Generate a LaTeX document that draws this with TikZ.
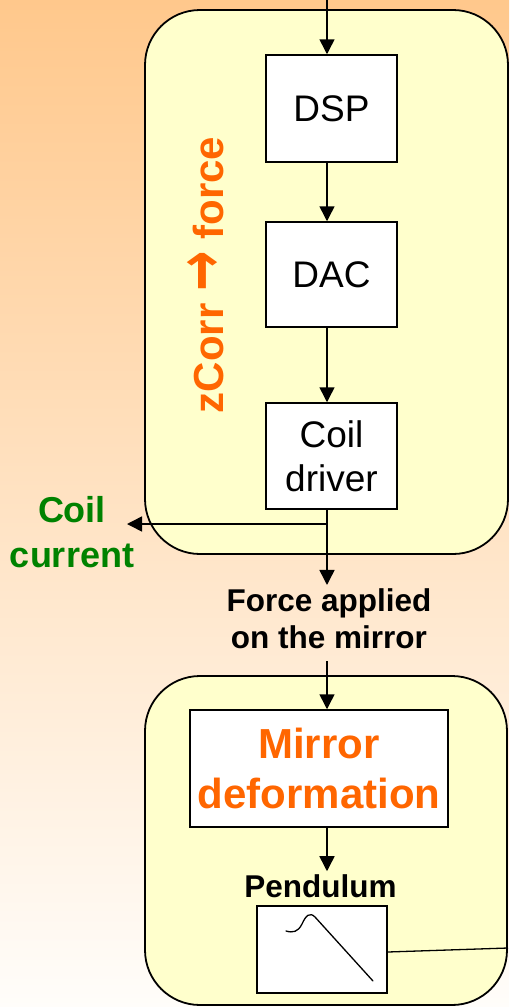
\documentclass[tikz,border=0pt]{standalone}
\usepackage{fontspec}
\setmainfont{Liberation Sans}
\newfontfamily\arrowfont{DejaVu Sans}
\usetikzlibrary{arrows.meta}
\definecolor{bgtop}{RGB}{255,200,140}
\definecolor{bgmid}{RGB}{253,228,208}
\definecolor{bgbot}{RGB}{255,253,250}
\definecolor{grpyellow}{RGB}{255,255,204}
\definecolor{txtorange}{RGB}{255,102,0}
\definecolor{txtgreen}{RGB}{0,130,0}
\begin{document}
\begin{tikzpicture}[x=1pt,y=-1pt,
  group/.style={draw=black,fill=grpyellow,line width=1.8pt,rounded corners=55pt,inner sep=0pt},
  block/.style={draw=black,fill=white,line width=1.5pt,inner sep=0pt,align=center,font=\fontsize{37}{44}\selectfont},
  arr/.style={line width=1.5pt,-{Triangle[length=15pt,width=15pt]}},
  plain/.style={line width=1.5pt},
  lbl/.style={inner sep=3pt,align=center,font=\bfseries\fontsize{31.5}{37.5}\selectfont}
]
\useasboundingbox (0,0) rectangle (509,1007);
\shade[top color=bgtop,middle color=bgmid,bottom color=bgbot] (0,0) rectangle (509,1007);

% groups
\node[group,minimum width=363pt,minimum height=544pt] (grpA) at (326.5,282) {};
\node[group,minimum width=362pt,minimum height=329pt] (grpB) at (326,840.5) {};

% blocks
\node[block,minimum width=131pt,minimum height=107pt] (dsp) at (331.5,108.5) {DSP};
\node[block,minimum width=131pt,minimum height=105pt] (dac) at (331.5,274.5) {DAC};
\node[block,minimum width=131pt,minimum height=106pt] (coil) at (331.5,456) {Coil\\driver};
\node[block,minimum width=258pt,minimum height=117pt,text=txtorange,
      font=\bfseries\fontsize{42}{50}\selectfont] (mirror) at (319,768.5) {Mirror\\deformation};
\node[block,minimum width=130pt,minimum height=87pt] (pendbox) at (322,949.5) {};

% labels
\node[rotate=90,inner sep=0pt,text=txtorange,font=\bfseries\fontsize{42}{50}\selectfont] (zcorr) at (206,275)
  {zCorr \scalebox{1.15}[1.6]{\arrowfont →} force};
\node[lbl,text=txtgreen,font=\bfseries\fontsize{36}{45}\selectfont] (cc) at (72,532) {Coil\\current};
\node[lbl] (force) at (329,618.5) {Force applied\\on the mirror};
\node[lbl] (pendlbl) at (320.5,886) {Pendulum};

% connectors
\coordinate (topin) at (327,0);
\coordinate (split) at (327,524);
\coordinate (cctip) at (127,524);
\coordinate (pendout) at (508,948);
\draw[arr] (topin) -- ([xshift=-4.5pt]dsp.north);
\draw[arr] ([xshift=-4.5pt]dsp.south) -- ([xshift=-4.5pt]dac.north);
\draw[arr] ([xshift=-4.5pt]dac.south) -- ([xshift=-4.5pt]coil.north);
\draw[plain] ([xshift=-4.5pt]coil.south) -- (split);
\draw[arr] (split) -- (cctip);
\draw[arr] (split) -- ([xshift=-2pt]force.north);
\draw[arr,shorten <=9pt] ([xshift=-2pt]force.south) -- ([xshift=8pt]mirror.north);
\draw[arr] ([xshift=8pt]mirror.south) -- ([xshift=6.5pt]pendlbl.north);
\draw[line width=1.3pt] ([yshift=-2.5pt]pendbox.east) -- (pendout);

% pendulum transfer function sketch
\draw[line width=1.3pt,line cap=round,line join=round]
  (286,931) .. controls (293,933) and (298,932) .. (302,924)
  .. controls (306,915) and (310,912) .. (315,917) -- (373,981);
\end{tikzpicture}
\end{document}
